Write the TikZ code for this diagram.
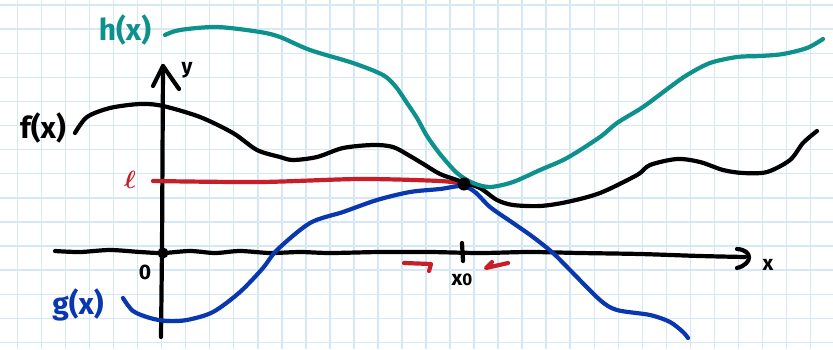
\documentclass[tikz,border=0pt]{standalone}
\usepackage{amsmath}
\usepackage{fontspec}
\setmainfont{Fira Sans}
\usetikzlibrary{arrows.meta}
\definecolor{gridblue}{RGB}{214,232,246}
\definecolor{hteal}{RGB}{12,145,140}
\definecolor{lred}{RGB}{200,30,40}
\definecolor{gblue}{RGB}{8,55,175}
\begin{document}
\begin{tikzpicture}[x=1pt,y=-1pt,
  curve/.style={line width=4.2pt, line cap=round, line join=round},
  gridline/.style={gridblue, line width=1.4pt},
  lab/.style={font=\fontsize{30}{32}\selectfont\bfseries, inner sep=0pt},
  small/.style={font=\fontsize{21}{23}\selectfont\bfseries, inner sep=0pt}]
\useasboundingbox (0,0) rectangle (833,349);
\fill[white] (0,0) rectangle (833,349);
\foreach \k in {0,...,34} \draw[gridline] ({17.5+24.03*\k},0) -- ({17.5+24.03*\k},349);
\foreach \k in {0,...,14} \draw[gridline] (0,{5+24.1*\k}) -- (833,{5+24.1*\k});

% axes
\draw[curve] plot[smooth] coordinates {(55,251) (80,252) (110,250) (140,252) (163,253) (190,251) (215,253) (240,251) (270,253) (300,252) (330,253) (380,252) (430,252) (480,253) (530,252) (580,253) (640,254) (700,256) (745,257)};
\draw[curve] (737,249) .. controls (753,250) and (753,264) .. (737,268);
\draw[curve] (161,337) -- (162,250) -- (163,66);
\draw[curve] (153,86) -- (163,66) -- (179,89);
\fill (163,253) circle (5.5);
\draw[curve] (462,243) -- (463,261);

% red arrows
\draw[curve, lred] (404,263) -- (431,264) -- (429,271);
\draw[curve, lred] (508,263) -- (486,268) -- (492,262);

% curves
\draw[curve, lred] plot[smooth] coordinates {(153,181) (260,182) (360,179) (440,181) (463,184)};
\draw[curve, gblue] plot[smooth] coordinates {(123,298) (133,311) (150,318) (167,321) (187,320) (213,312) (240,292) (263,268) (277,250) (310,223) (343,212) (377,200) (410,192) (440,189) (462,186) (475,192) (490,207) (513,223) (533,237) (553,253) (570,270) (600,300) (617,310) (650,315) (670,322) (683,332) (688,338)};
\draw[curve] plot[smooth] coordinates {(75,133) (87,117) (110,108) (140,104) (163,106) (200,117) (233,133) (257,150) (280,157) (293,160) (317,157) (343,148) (373,145) (393,147) (410,156) (425,165) (440,174) (457,180) (465,183) (480,188) (497,200) (513,205) (540,206) (567,202) (600,193) (637,175) (650,165) (677,159) (700,162) (723,170) (743,173) (767,172) (790,160) (803,143) (817,131)};
\draw[curve, hteal] plot[smooth] coordinates {(165,35) (180,30) (217,27) (260,32) (280,37) (310,50) (353,63) (383,75) (396,87) (407,103) (417,118) (427,136) (440,154) (457,173) (473,183) (490,187) (513,182) (540,170) (567,158) (600,137) (617,123) (643,107) (670,87) (687,75) (710,63) (737,57) (760,56) (783,54) (807,48) (823,39)};
\node[circle, fill, inner sep=0pt, minimum size=13pt] (dot) at (464,184) {};

% labels
\node[lab, hteal] (hl) at (125,30) {h(x)};
\node[lab] (fl) at (43,128) {f(x)};
\node[lab, gblue] (gl) at (78,305) {g(x)};
\node[lab, lred, font=\fontsize{34}{36}\selectfont] (ll) at (130,180) {$\boldsymbol{\ell}$};
\node[small] (ylab) at (187,70) {y};
\node[small] (xlab) at (768,265) {x};
\node[small] (olab) at (145,272) {0};
\node[small] (x0lab) at (462,280) {x\fontsize{17}{19}\selectfont 0};
\end{tikzpicture}
\end{document}
